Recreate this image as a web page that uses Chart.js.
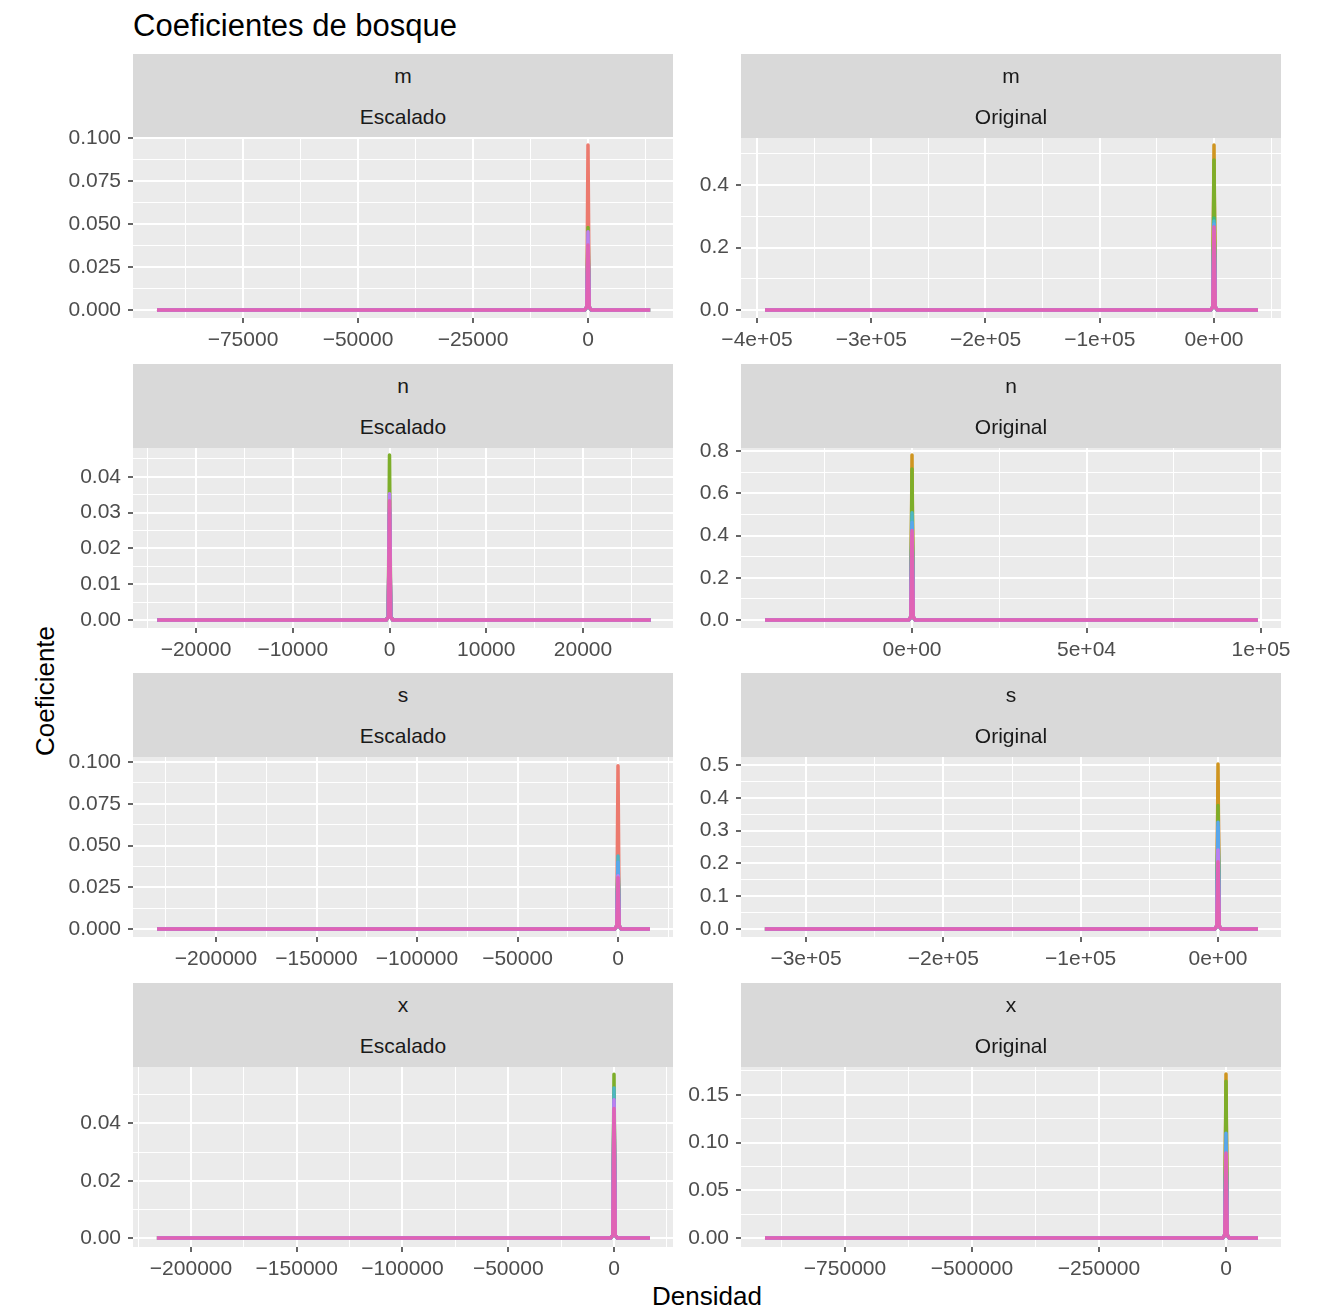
<!DOCTYPE html>
<html>
<head>
<meta charset="utf-8">
<script src="https://cdn.jsdelivr.net/npm/chart.js@4/dist/chart.umd.min.js"></script>
<style>
  html, body { margin: 0; padding: 0; background: #ffffff; }
  body { width: 1326px; height: 1313px; position: relative; overflow: hidden;
         font-family: "Liberation Sans", Arial, Helvetica, sans-serif; }
  .title { position: absolute; left: 133px; top: 8px; font-size: 31px; line-height: 36px; color: #000; white-space: nowrap; }
  .strip { position: absolute; width: 540px; height: 84px; background: #D9D9D9; color: #1A1A1A; font-size: 21px; }
  .strip span { position: absolute; left: 0; right: 0; text-align: center; line-height: 24px; white-space: nowrap; }
  .box { position: absolute; }
  .ytitle { position: absolute; left: 45px; top: 691px; transform: translate(-50%, -50%) rotate(-90deg);
            font-size: 26px; color: #000; white-space: nowrap; }
  .xtitle { position: absolute; left: 707px; top: 1296px; transform: translate(-50%, -50%);
            font-size: 26px; color: #000; white-space: nowrap; }
</style>
</head>
<body>
<div class="title">Coeficientes de bosque</div>
<div class="ytitle">Coeficiente</div>
<div class="xtitle">Densidad</div>

<script>
// ---- series (one density curve per group) ----
const SERIES_NAMES = ['g1', 'g2', 'g3', 'g4', 'g5', 'g6', 'g7', 'g8'];
const SERIES_COLORS = ['#EC7A6E', '#CF9520', '#7DAE2A', '#3CB97C', '#4DB6C4', '#5AA6EC', '#BD7EF0', '#E063B4'];

// ---- m / Escalado ----
const M_ESC_X = [-93700, -750, -260, 0, 260, 750, 13500];
const M_ESC_Y = [
  [0, 0, 0.0017, 0.0959, 0.0017, 0, 0],
  [0, 0, 0.0017, 0.0400, 0.0017, 0, 0],
  [0, 0, 0.0017, 0.0480, 0.0017, 0, 0],
  [0, 0, 0.0017, 0.0300, 0.0017, 0, 0],
  [0, 0, 0.0017, 0.0350, 0.0017, 0, 0],
  [0, 0, 0.0017, 0.0340, 0.0017, 0, 0],
  [0, 0, 0.0017, 0.0455, 0.0017, 0, 0],
  [0, 0, 0.0017, 0.0378, 0.0017, 0, 0]
];
const M_ESC_XTICKS = [-75000, -50000, -25000, 0];
const M_ESC_XLABELS = ['\u221275000', '\u221250000', '\u221225000', '0'];
const M_ESC_YTICKS = [0, 0.025, 0.05, 0.075, 0.1];
const M_ESC_YLABELS = ['0.000', '0.025', '0.050', '0.075', '0.100'];

// ---- m / Original ----
const M_ORI_X = [-393000, -3000, -1050, 0, 1050, 3000, 38500];
const M_ORI_Y = [
  [0, 0, 0.0096, 0.450, 0.0096, 0, 0],
  [0, 0, 0.0096, 0.528, 0.0096, 0, 0],
  [0, 0, 0.0096, 0.480, 0.0096, 0, 0],
  [0, 0, 0.0096, 0.294, 0.0096, 0, 0],
  [0, 0, 0.0096, 0.285, 0.0096, 0, 0],
  [0, 0, 0.0096, 0.275, 0.0096, 0, 0],
  [0, 0, 0.0096, 0.250, 0.0096, 0, 0],
  [0, 0, 0.0096, 0.266, 0.0096, 0, 0]
];
const M_ORI_XTICKS = [-400000, -300000, -200000, -100000, 0];
const M_ORI_XLABELS = ['\u22124e+05', '\u22123e+05', '\u22122e+05', '\u22121e+05', '0e+00'];
const M_ORI_YTICKS = [0, 0.2, 0.4];
const M_ORI_YLABELS = ['0.0', '0.2', '0.4'];

// ---- n / Escalado ----
const N_ESC_X = [-24000, -360, -125, 0, 125, 360, 27000];
const N_ESC_Y = [
  [0, 0, 0.0008, 0.0300, 0.0008, 0, 0],
  [0, 0, 0.0008, 0.0280, 0.0008, 0, 0],
  [0, 0, 0.0008, 0.0461, 0.0008, 0, 0],
  [0, 0, 0.0008, 0.0250, 0.0008, 0, 0],
  [0, 0, 0.0008, 0.0300, 0.0008, 0, 0],
  [0, 0, 0.0008, 0.0310, 0.0008, 0, 0],
  [0, 0, 0.0008, 0.0353, 0.0008, 0, 0],
  [0, 0, 0.0008, 0.0333, 0.0008, 0, 0]
];
const N_ESC_XTICKS = [-20000, -10000, 0, 10000, 20000];
const N_ESC_XLABELS = ['\u221220000', '\u221210000', '0', '10000', '20000'];
const N_ESC_YTICKS = [0, 0.01, 0.02, 0.03, 0.04];
const N_ESC_YLABELS = ['0.00', '0.01', '0.02', '0.03', '0.04'];

// ---- n / Original ----
const N_ORI_X = [-42100, -1000, -340, 0, 340, 1000, 99100];
const N_ORI_Y = [
  [0, 0, 0.014, 0.600, 0.014, 0, 0],
  [0, 0, 0.014, 0.781, 0.014, 0, 0],
  [0, 0, 0.014, 0.715, 0.014, 0, 0],
  [0, 0, 0.014, 0.450, 0.014, 0, 0],
  [0, 0, 0.014, 0.508, 0.014, 0, 0],
  [0, 0, 0.014, 0.461, 0.014, 0, 0],
  [0, 0, 0.014, 0.410, 0.014, 0, 0],
  [0, 0, 0.014, 0.4235, 0.014, 0, 0]
];
const N_ORI_XTICKS = [0, 50000, 100000];
const N_ORI_XLABELS = ['0e+00', '5e+04', '1e+05'];
const N_ORI_YTICKS = [0, 0.2, 0.4, 0.6, 0.8];
const N_ORI_YLABELS = ['0.0', '0.2', '0.4', '0.6', '0.8'];

// ---- s / Escalado ----
const S_ESC_X = [-229300, -1750, -600, 0, 600, 1750, 15900];
const S_ESC_Y = [
  [0, 0, 0.0018, 0.0977, 0.0018, 0, 0],
  [0, 0, 0.0018, 0.0400, 0.0018, 0, 0],
  [0, 0, 0.0018, 0.0350, 0.0018, 0, 0],
  [0, 0, 0.0018, 0.0300, 0.0018, 0, 0],
  [0, 0, 0.0018, 0.0438, 0.0018, 0, 0],
  [0, 0, 0.0018, 0.0400, 0.0018, 0, 0],
  [0, 0, 0.0018, 0.0320, 0.0018, 0, 0],
  [0, 0, 0.0018, 0.0308, 0.0018, 0, 0]
];
const S_ESC_XTICKS = [-200000, -150000, -100000, -50000, 0];
const S_ESC_XLABELS = ['\u2212200000', '\u2212150000', '\u2212100000', '\u221250000', '0'];
const S_ESC_YTICKS = [0, 0.025, 0.05, 0.075, 0.1];
const S_ESC_YLABELS = ['0.000', '0.025', '0.050', '0.075', '0.100'];

// ---- s / Original ----
const S_ORI_X = [-329900, -2550, -870, 0, 870, 2550, 29100];
const S_ORI_Y = [
  [0, 0, 0.009, 0.450, 0.009, 0, 0],
  [0, 0, 0.009, 0.503, 0.009, 0, 0],
  [0, 0, 0.009, 0.376, 0.009, 0, 0],
  [0, 0, 0.009, 0.300, 0.009, 0, 0],
  [0, 0, 0.009, 0.310, 0.009, 0, 0],
  [0, 0, 0.009, 0.325, 0.009, 0, 0],
  [0, 0, 0.009, 0.241, 0.009, 0, 0],
  [0, 0, 0.009, 0.205, 0.009, 0, 0]
];
const S_ORI_XTICKS = [-300000, -200000, -100000, 0];
const S_ORI_XLABELS = ['\u22123e+05', '\u22122e+05', '\u22121e+05', '0e+00'];
const S_ORI_YTICKS = [0, 0.1, 0.2, 0.3, 0.4, 0.5];
const S_ORI_YLABELS = ['0.0', '0.1', '0.2', '0.3', '0.4', '0.5'];

// ---- x / Escalado ----
const X_ESC_X = [-216100, -1650, -570, 0, 570, 1650, 17000];
const X_ESC_Y = [
  [0, 0, 0.001, 0.0450, 0.001, 0, 0],
  [0, 0, 0.001, 0.0500, 0.001, 0, 0],
  [0, 0, 0.001, 0.0572, 0.001, 0, 0],
  [0, 0, 0.001, 0.0400, 0.001, 0, 0],
  [0, 0, 0.001, 0.0524, 0.001, 0, 0],
  [0, 0, 0.001, 0.0470, 0.001, 0, 0],
  [0, 0, 0.001, 0.0483, 0.001, 0, 0],
  [0, 0, 0.001, 0.0452, 0.001, 0, 0]
];
const X_ESC_XTICKS = [-200000, -150000, -100000, -50000, 0];
const X_ESC_XLABELS = ['\u2212200000', '\u2212150000', '\u2212100000', '\u221250000', '0'];
const X_ESC_YTICKS = [0, 0.02, 0.04];
const X_ESC_YLABELS = ['0.00', '0.02', '0.04'];

// ---- x / Original ----
const X_ORI_X = [-907500, -6900, -2360, 0, 2360, 6900, 63000];
const X_ORI_Y = [
  [0, 0, 0.0031, 0.1500, 0.0031, 0, 0],
  [0, 0, 0.0031, 0.1717, 0.0031, 0, 0],
  [0, 0, 0.0031, 0.1640, 0.0031, 0, 0],
  [0, 0, 0.0031, 0.0900, 0.0031, 0, 0],
  [0, 0, 0.0031, 0.0950, 0.0031, 0, 0],
  [0, 0, 0.0031, 0.1097, 0.0031, 0, 0],
  [0, 0, 0.0031, 0.0850, 0.0031, 0, 0],
  [0, 0, 0.0031, 0.0890, 0.0031, 0, 0]
];
const X_ORI_XTICKS = [-750000, -500000, -250000, 0];
const X_ORI_XLABELS = ['\u2212750000', '\u2212500000', '\u2212250000', '0'];
const X_ORI_YTICKS = [0, 0.05, 0.1, 0.15];
const X_ORI_YLABELS = ['0.00', '0.05', '0.10', '0.15'];

// ---- facet grid ----
const PANELS = [
  { row: 0, col: 0, coef: 'm', tipo: 'Escalado', xs: M_ESC_X, ys: M_ESC_Y, xr: [-98913, 18478], yr: [-0.00465, 0.1],
    xt: M_ESC_XTICKS, xl: M_ESC_XLABELS, yt: M_ESC_YTICKS, yl: M_ESC_YLABELS },
  { row: 0, col: 1, coef: 'm', tipo: 'Original', xs: M_ORI_X, ys: M_ORI_Y, xr: [-414000, 58640], yr: [-0.0256, 0.5504],
    xt: M_ORI_XTICKS, xl: M_ORI_XLABELS, yt: M_ORI_YTICKS, yl: M_ORI_YLABELS },
  { row: 1, col: 0, coef: 'n', tipo: 'Escalado', xs: N_ESC_X, ys: N_ESC_Y, xr: [-26512, 29302], yr: [-0.00222, 0.04806],
    xt: N_ESC_XTICKS, xl: N_ESC_XLABELS, yt: N_ESC_YTICKS, yl: N_ESC_YLABELS },
  { row: 1, col: 1, coef: 'n', tipo: 'Original', xs: N_ORI_X, ys: N_ORI_Y, xr: [-49000, 105730], yr: [-0.0376, 0.814],
    xt: N_ORI_XTICKS, xl: N_ORI_XLABELS, yt: N_ORI_YTICKS, yl: N_ORI_YLABELS },
  { row: 2, col: 0, coef: 's', tipo: 'Escalado', xs: S_ESC_X, ys: S_ESC_Y, xr: [-241294, 27363], yr: [-0.00473, 0.103],
    xt: S_ESC_XTICKS, xl: S_ESC_XLABELS, yt: S_ESC_YTICKS, yl: S_ESC_YLABELS },
  { row: 2, col: 1, coef: 's', tipo: 'Original', xs: S_ORI_X, ys: S_ORI_Y, xr: [-347330, 45870], yr: [-0.0241, 0.524],
    xt: S_ORI_XTICKS, xl: S_ORI_XLABELS, yt: S_ORI_YTICKS, yl: S_ORI_YLABELS },
  { row: 3, col: 0, coef: 'x', tipo: 'Escalado', xs: X_ESC_X, ys: X_ESC_Y, xr: [-227423, 27896], yr: [-0.0031, 0.0597],
    xt: X_ESC_XTICKS, xl: X_ESC_XLABELS, yt: X_ESC_YTICKS, yl: X_ESC_YLABELS },
  { row: 3, col: 1, coef: 'x', tipo: 'Original', xs: X_ORI_X, ys: X_ORI_Y, xr: [-954724, 108268], yr: [-0.0093, 0.179],
    xt: X_ORI_XTICKS, xl: X_ORI_XLABELS, yt: X_ORI_YTICKS, yl: X_ORI_YLABELS }
];

// layout of the grid (page pixels)
const COL_LEFT = [133, 741];
const PANEL_W = 540;
const STRIP_TOP = [54, 364, 673, 983];
const STRIP_H = 84;
const PANEL_H = 180;
const Y_AXIS_W = [133, 61];
const PAD_TOP = 26, PAD_RIGHT = 45, X_AXIS_H = 40;
const FONT = '"Liberation Sans", Arial, Helvetica, sans-serif';

// grey panel background behind grid lines
const panelBg = {
  id: 'panelBg',
  beforeDraw(chart) {
    const { ctx, chartArea: a } = chart;
    ctx.save();
    ctx.fillStyle = '#EBEBEB';
    ctx.fillRect(a.left, a.top, a.right - a.left, a.bottom - a.top);
    ctx.restore();
  }
};

// major breaks plus minor breaks halfway between them
function buildTicks(major, min, max) {
  const out = major.filter(v => v >= min - 1e-12 && v <= max + 1e-12).map(v => ({ value: v, minor: false }));
  const step = major.length > 1 ? major[1] - major[0] : 0;
  const ext = [major[0] - step].concat(major, [major[major.length - 1] + step]);
  for (let i = 0; i < ext.length - 1; i++) {
    const m = (ext[i] + ext[i + 1]) / 2;
    if (m > min && m < max) out.push({ value: m, minor: true });
  }
  return out.sort((a, b) => a.value - b.value);
}

function labelOf(v, ticks, labels) {
  const span = Math.abs(ticks[ticks.length - 1] - ticks[0]) || 1;
  for (let i = 0; i < ticks.length; i++) {
    if (Math.abs(ticks[i] - v) < span * 1e-9) return labels[i];
  }
  return '';
}

function axisOptions(isX, p) {
  const major = isX ? p.xt : p.yt;
  const labels = isX ? p.xl : p.yl;
  const range = isX ? p.xr : p.yr;
  return {
    type: 'linear',
    min: range[0],
    max: range[1],
    afterBuildTicks: s => { s.ticks = buildTicks(major, range[0], range[1]); },
    afterFit: s => {
      if (isX) s.height = X_AXIS_H; else s.width = Y_AXIS_W[p.col];
    },
    border: { display: false },
    grid: {
      color: '#FFFFFF',
      lineWidth: c => (c.tick && c.tick.minor) ? 1 : 2,
      tickColor: c => (c.tick && c.tick.minor) ? 'rgba(0,0,0,0)' : '#333333',
      tickLength: 5,
      tickWidth: 1.5
    },
    ticks: {
      autoSkip: false,
      maxRotation: 0,
      minRotation: 0,
      padding: isX ? 5 : 7,
      color: '#4D4D4D',
      font: { family: FONT, size: 21 },
      callback: (v, i, t) => (t[i] && t[i].minor) ? '' : labelOf(v, major, labels)
    }
  };
}

PANELS.forEach(p => {
  // strip with the two facet labels
  const strip = document.createElement('div');
  strip.className = 'strip';
  strip.style.left = COL_LEFT[p.col] + 'px';
  strip.style.top = STRIP_TOP[p.row] + 'px';
  strip.innerHTML = '<span style="top:10px">' + p.coef + '</span><span style="top:51px">' + p.tipo + '</span>';
  document.body.appendChild(strip);

  // chart box: y axis on the left, panel, x axis below
  const left = COL_LEFT[p.col] - Y_AXIS_W[p.col];
  const top = STRIP_TOP[p.row] + STRIP_H - PAD_TOP;
  const w = Y_AXIS_W[p.col] + PANEL_W + PAD_RIGHT;
  const h = PAD_TOP + PANEL_H + X_AXIS_H;
  const box = document.createElement('div');
  box.className = 'box';
  box.style.left = left + 'px';
  box.style.top = top + 'px';
  box.style.width = w + 'px';
  box.style.height = h + 'px';
  const cv = document.createElement('canvas');
  cv.width = w; cv.height = h;
  cv.style.width = w + 'px'; cv.style.height = h + 'px';
  box.appendChild(cv);
  document.body.appendChild(box);

  // first group is drawn first, last group (pink) ends on top
  const datasets = SERIES_NAMES.map((name, k) => ({
    label: name,
    data: p.xs.map((x, j) => ({ x: x, y: p.ys[k][j] })),
    borderColor: SERIES_COLORS[k],
    backgroundColor: SERIES_COLORS[k],
    fill: false
  })).reverse();

  new Chart(cv, {
    type: 'line',
    data: { datasets },
    plugins: [panelBg],
    options: {
      responsive: false,
      animation: false,
      devicePixelRatio: 1,
      layout: { padding: { top: PAD_TOP, right: PAD_RIGHT, left: 0, bottom: 0 } },
      plugins: { legend: { display: false }, tooltip: { enabled: false }, title: { display: false } },
      elements: {
        point: { radius: 0, hoverRadius: 0 },
        line: { borderWidth: 3.5, tension: 0, borderJoinStyle: 'round', borderCapStyle: 'butt' }
      },
      scales: {
        x: axisOptions(true, p),
        y: axisOptions(false, p)
      }
    }
  });
});
</script>
</body>
</html>
